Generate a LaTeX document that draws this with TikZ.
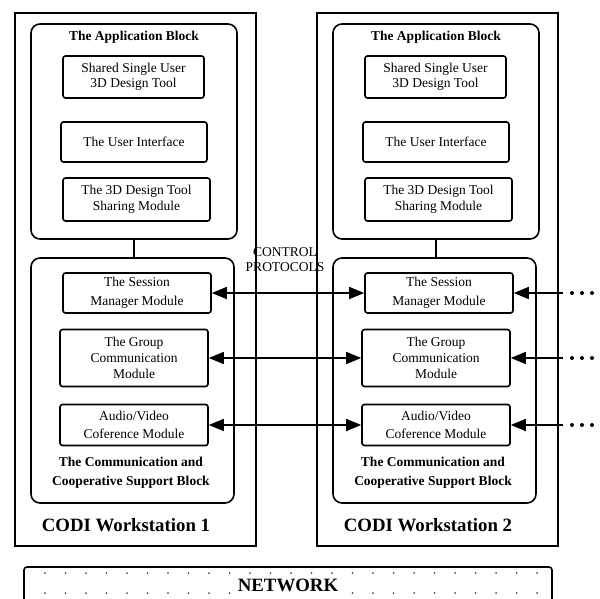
\documentclass[tikz,border=0pt]{standalone}
\usepackage{fontspec}
\setmainfont{Liberation Serif}
\usetikzlibrary{arrows.meta,positioning}
\newcommand{\txt}{\fontsize{13.5}{16}\selectfont}
\newcommand{\bigtxt}{\fontsize{18.8}{21}\selectfont\bfseries}
\tikzset{
  wsbox/.style={draw,line width=1.6pt,minimum width=241pt,minimum height=533pt,inner sep=0pt},
  blk/.style={draw,line width=1.6pt,rounded corners=9pt,inner sep=0pt},
  modbox/.style={draw,line width=1.6pt,rounded corners=2.5pt,minimum width=146pt,align=center,inner sep=0pt,font=\txt},
  link/.style={line width=1.6pt,{Triangle[length=15pt,width=12pt]}-{Triangle[length=15pt,width=12pt]}},
}

\begin{document}
\begin{tikzpicture}[x=1pt,y=-1pt]
  \useasboundingbox (0,0) rectangle (600,599);
  \clip (0,0) rectangle (600,599);
  % the two workstations
  \foreach \i/\dx in {1/0,2/302}{
    \node[wsbox] (ws\i) at (135.5+\dx,279.5) {};
    \node[blk,minimum width=206pt,minimum height=215pt] (app\i) at (134+\dx,131.5) {};
    \node[font=\txt\bfseries] (apptitle\i) at (134+\dx,37.5) {The Application Block};
    \node[modbox,minimum width=141pt,minimum height=42pt,font=\fontsize{13.5}{15}\selectfont] (tool\i) at (133.5+\dx,77) {Shared Single User\\3D Design Tool};
    \node[modbox,minimum height=40pt] (ui\i) at (134+\dx,142) {The User Interface};
    \node[modbox,minimum width=147pt,minimum height=43pt] (share\i) at (136.5+\dx,199.5) {The 3D Design Tool\\Sharing Module};
    \node[blk,minimum width=203pt,minimum height=245pt] (comm\i) at (132.5+\dx,380.5) {};
    \node[modbox,minimum width=148pt,minimum height=40pt,font=\fontsize{13.5}{19}\selectfont] (sess\i) at (137+\dx,293) {The Session\\Manager Module};
    \node[modbox,minimum width=148pt,minimum height=57pt] (grp\i) at (134+\dx,358) {The Group\\Communication\\Module};
    \node[modbox,minimum width=148pt,minimum height=41pt,font=\fontsize{13.5}{18.5}\selectfont] (av\i) at (134+\dx,425) {Audio/Video\\Coference Module};
    \node[align=center,font=\fontsize{13.5}{19}\selectfont\bfseries] (commtitle\i) at (131+\dx,473) {The Communication and\\Cooperative Support Block};
    \node[font=\bigtxt] (wstitle\i) at (126+\dx,525) {CODI Workstation \i};
    \draw[line width=1.6pt] (app\i.south) -- (app\i.south |- comm\i.north);
  }
  \node[align=center,font=\fontsize{13.5}{15}\selectfont] (ctrl) at (285,259.5) {CONTROL\\PROTOCOLS};
  % links between and beyond the workstations
  \foreach \m in {sess,grp,av}{
    \draw[link] (\m1.east) -- (\m2.west);
    \coordinate (\m out) at (\m2.east -| 563,0);
    \draw[line width=1.6pt,-{Triangle[length=15pt,width=12pt]}] (\m out) -- (\m2.east);
    \foreach \d in {572,582,592} \fill (\m2.east -| \d,0) circle (2pt);
  }
  % network
  \node[draw,line width=1.6pt,rounded corners=3pt,minimum width=528pt,minimum height=52pt,inner sep=0pt] (net) at (288,593) {};
  \foreach \k in {0,...,24}{
    \fill[gray!60!black] (45+20.5*\k,573) circle (1pt);
    \fill[gray!60!black] (45+20.5*\k,593) circle (1pt);
  }
  \node[fill=white,inner sep=2pt,font=\bigtxt] (nettitle) at (288,585.5) {NETWORK};
\end{tikzpicture}
\end{document}
